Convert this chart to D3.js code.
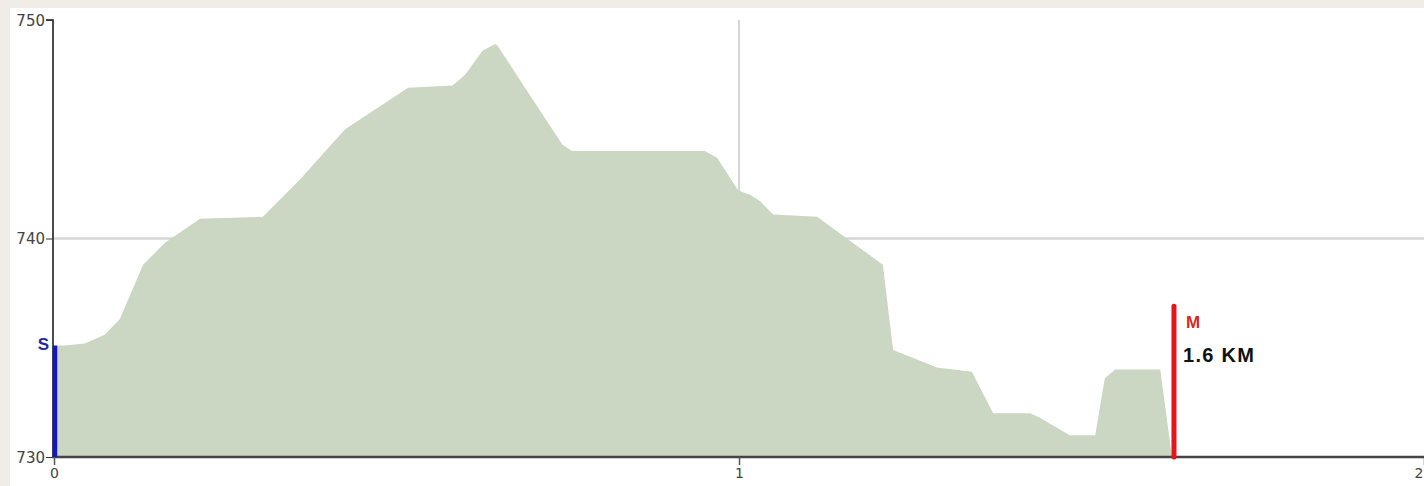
<!DOCTYPE html>
<html>
<head>
<meta charset="utf-8">
<script src="https://cdn.jsdelivr.net/npm/d3@7"></script>
<style>
  html, body { margin: 0; padding: 0; background: #f0ede6; }
  svg { display: block; }
</style>
</head>
<body>
<svg id="chart" width="1424" height="486"></svg>
<script>
// distance along route (km)
const distances = [0.000, 0.015, 0.045, 0.074, 0.096, 0.130, 0.162, 0.213, 0.305, 0.359,
  0.425, 0.517, 0.582, 0.600, 0.626, 0.644, 0.648, 0.742, 0.756, 0.950,
  0.968, 0.999, 1.016, 1.031, 1.050, 1.114, 1.162, 1.210, 1.225, 1.289,
  1.340, 1.371, 1.425, 1.439, 1.483, 1.520, 1.534, 1.549, 1.615, 1.632];
// elevation (m)
const elevations = [735.1, 735.1, 735.2, 735.6, 736.3, 738.8, 739.8, 740.9, 741.0, 742.7,
  745.0, 746.9, 747.0, 747.5, 748.6, 748.9, 748.8, 744.3, 744.0, 744.0,
  743.7, 742.2, 742.0, 741.7, 741.1, 741.0, 739.9, 738.8, 734.9, 734.1,
  733.9, 732.0, 732.0, 731.8, 731.0, 731.0, 733.6, 734.0, 734.0, 730.0];
const xTicks = [0, 1, 2];
const yTicks = [730, 740, 750];
const startMarker = { label: "S", km: 0, elev: 735.1 };
const endMarker = { label: "M", text: "1.6 KM", km: 1.635, elev: 736.9 };

const svg = d3.select("#chart");
const W = 1424, H = 486;

// frame
svg.append("rect").attr("x", 0).attr("y", 0).attr("width", W).attr("height", H).attr("fill", "#f0ede6");
svg.append("rect").attr("x", 10).attr("y", 8).attr("width", W - 10).attr("height", H - 8).attr("fill", "#ffffff");

const x = d3.scaleLinear().domain([0, 2]).range([54, 1424]);
const y = d3.scaleLinear().domain([730, 750]).range([457, 20]);

// gridlines
const grid = svg.append("g");
grid.selectAll("line.h").data(yTicks.filter(v => v > 730 && v < 750)).enter().append("line")
  .attr("x1", x(0)).attr("x2", W).attr("y1", d => y(d)).attr("y2", d => y(d))
  .attr("stroke", "#d6d6d6").attr("stroke-width", 2.5);
grid.selectAll("line.v").data(xTicks.filter(v => v > 0 && v < 2)).enter().append("line")
  .attr("x1", d => x(d)).attr("x2", d => x(d)).attr("y1", y(750)).attr("y2", y(730))
  .attr("stroke", "#d6d6d6").attr("stroke-width", 2);

// profile area
const pts = distances.map((d, i) => [d, elevations[i]]);
const area = d3.area().x(d => x(d[0])).y0(y(730)).y1(d => y(d[1]));
svg.append("path").datum(pts).attr("d", area).attr("fill", "#cbd7c2");

// axes
const yAxis = d3.axisLeft(y).tickValues(yTicks).tickSize(7).tickPadding(1).tickFormat(d3.format("d"));
const gy = svg.append("g").attr("transform", "translate(53,0)").call(yAxis);
gy.select(".domain").attr("stroke", "#111").attr("stroke-width", 1.5).attr("d", "M-7," + y(750) + "H0V" + y(730));
gy.selectAll(".tick line").attr("stroke", "#333");
gy.selectAll(".tick text").attr("font-family", "DejaVu Sans, sans-serif").attr("font-size", 15)
  .attr("fill", "#444").attr("dy", "0.36em");

const xAxis = d3.axisBottom(x).tickValues(xTicks).tickSize(8).tickPadding(3).tickFormat(d3.format("d"));
const gx = svg.append("g").attr("transform", "translate(0," + y(730) + ")").call(xAxis);
gx.select(".domain").attr("stroke", "#444").attr("stroke-width", 2.5).attr("d", "M52,0H" + W);
gx.selectAll(".tick line").attr("stroke", "#555").attr("stroke-width", 1.5);
gx.selectAll(".tick text").attr("font-family", "DejaVu Sans, sans-serif").attr("font-size", 14)
  .attr("fill", "#444")
  .attr("text-anchor", d => d === 2 ? "end" : "middle")
  .attr("dx", d => d === 2 ? -1 : 0);

// start marker
svg.append("line").attr("x1", x(startMarker.km) + 1).attr("x2", x(startMarker.km) + 1)
  .attr("y1", y(startMarker.elev)).attr("y2", y(730))
  .attr("stroke", "#1515c8").attr("stroke-width", 4.5);
svg.append("text").attr("x", x(startMarker.km) - 5).attr("y", y(startMarker.elev) + 4)
  .attr("text-anchor", "end").attr("font-family", "Liberation Sans, Arial, sans-serif")
  .attr("font-weight", "bold").attr("font-size", 17).attr("fill", "#2626a6").text(startMarker.label);

// end marker
svg.append("line").attr("x1", x(endMarker.km)).attr("x2", x(endMarker.km))
  .attr("y1", y(endMarker.elev)).attr("y2", y(730))
  .attr("stroke", "#e8141c").attr("stroke-width", 5).attr("stroke-linecap", "round");
svg.append("text").attr("x", x(endMarker.km) + 12).attr("y", y(endMarker.elev) + 22)
  .attr("font-family", "Liberation Sans, Arial, sans-serif")
  .attr("font-weight", "bold").attr("font-size", 17).attr("fill", "#d42a2a").text(endMarker.label);
svg.append("text").attr("x", x(endMarker.km) + 9).attr("y", y(endMarker.elev) + 56)
  .attr("font-family", "Liberation Sans, Arial, sans-serif")
  .attr("font-weight", "bold").attr("font-size", 20).attr("letter-spacing", 1.3)
  .attr("fill", "#111").text(endMarker.text);
</script>
</body>
</html>
